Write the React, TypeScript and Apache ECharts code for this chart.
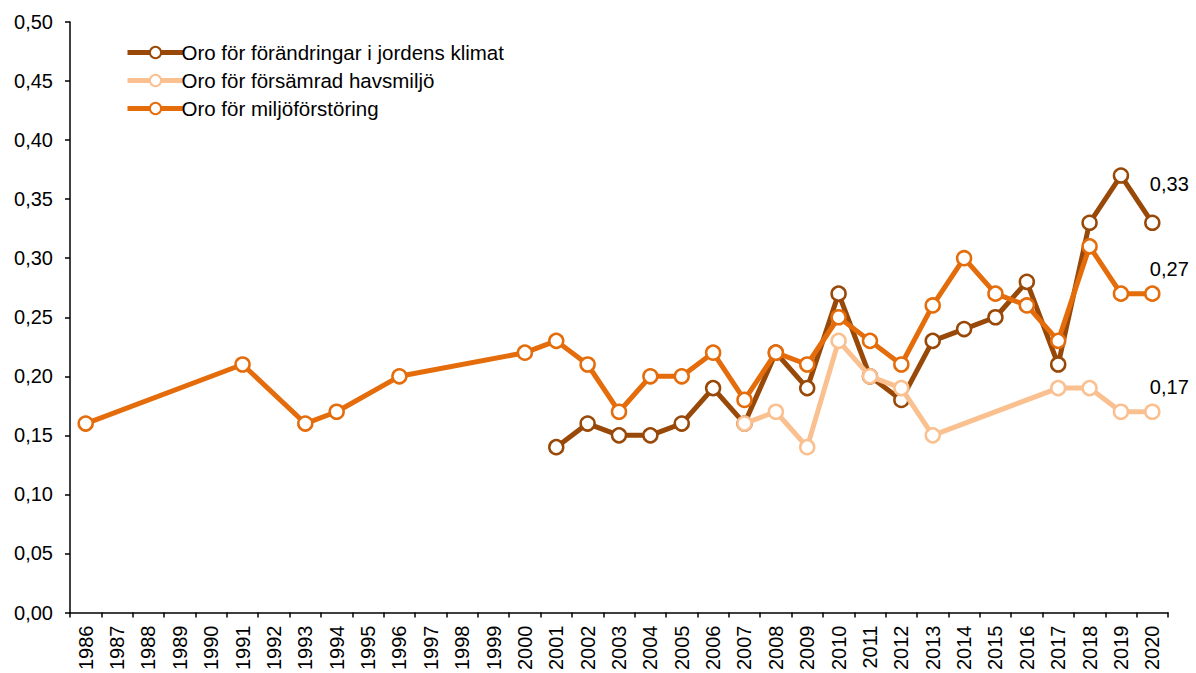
import React, { useEffect, useRef } from "react";
import * as echarts from "echarts";

const years = [
  "1986","1987","1988","1989","1990","1991","1992","1993","1994","1995","1996","1997","1998","1999","2000",
  "2001","2002","2003","2004","2005","2006","2007","2008","2009","2010","2011","2012","2013","2014","2015",
  "2016","2017","2018","2019","2020",
];

const N = null;
// 1986..2000 (15), 2001..2020 (20)
const klimat = [
  N,N,N,N,N,N,N,N,N,N,N,N,N,N,N,
  0.14,0.16,0.15,0.15,0.16,0.19,0.16,0.22,0.19,0.27,0.20,0.18,0.23,0.24,0.25,0.28,0.21,0.33,0.37,0.33,
];
const havsmiljo = [
  N,N,N,N,N,N,N,N,N,N,N,N,N,N,N,
  N,N,N,N,N,N,0.16,0.17,0.14,0.23,0.20,0.19,0.15,N,N,N,0.19,0.19,0.17,0.17,
];
const miljoforstoring = [
  0.16,N,N,N,N,0.21,N,0.16,0.17,N,0.20,N,N,N,0.22,
  0.23,0.21,0.17,0.20,0.20,0.22,0.18,0.22,0.21,0.25,0.23,0.21,0.26,0.30,0.27,0.26,0.23,0.31,0.27,0.27,
];

const seriesNames = [
  "Oro för förändringar i jordens klimat",
  "Oro för försämrad havsmiljö",
  "Oro för miljöförstöring",
];
const colors = ["#984807", "#FAC090", "#E46C0A"];
const endLabelOffsets = [[17, -21], [17, -6], [17, -6]];

const fmt = (v: number) => v.toFixed(2).replace(".", ",");

export default function App() {
  const ref = useRef<HTMLDivElement>(null);
  useEffect(() => {
    if (!ref.current) return;
    const chart = echarts.init(ref.current, undefined, { renderer: "svg" });
    const datasets = [klimat, havsmiljo, miljoforstoring];
    const font = "Liberation Sans";
    chart.setOption({
      animation: false,
      textStyle: { fontFamily: font },
      grid: { left: 70, right: 28, top: 22, bottom: 60, containLabel: false },
      legend: {
        orient: "vertical",
        left: 120,
        top: 37,
        itemWidth: 56,
        itemHeight: 14,
        itemGap: 7,
        lineStyle: { width: 5 },
        textStyle: { fontSize: 20.5, lineHeight: 21, color: "#000", fontFamily: font, padding: [0, 0, 0, -7] },
        data: seriesNames,
      },
      xAxis: {
        type: "category",
        data: years,
        boundaryGap: true,
        axisLine: { lineStyle: { color: "#000", width: 1.5 } },
        axisTick: { show: true, alignWithLabel: false, length: 5, lineStyle: { color: "#000", width: 1.5 } },
        axisLabel: { rotate: 90, fontSize: 20, color: "#000", margin: 13, interval: 0, fontFamily: font },
        splitLine: { show: false },
      },
      yAxis: {
        type: "value",
        min: 0,
        max: 0.5,
        interval: 0.05,
        axisLine: { show: true, lineStyle: { color: "#000", width: 1.5 } },
        axisTick: { show: true, length: 5, lineStyle: { color: "#000", width: 1.5 } },
        axisLabel: { fontSize: 20, color: "#000", margin: 17, formatter: (v: number) => fmt(v), fontFamily: font },
        splitLine: { show: false },
      },
      series: datasets.map((d, i) => ({
        name: seriesNames[i],
        type: "line",
        connectNulls: true,
        symbol: "circle",
        symbolSize: 14,
        z: 2 + i,
        lineStyle: { color: colors[i], width: 5 },
        itemStyle: { color: "#fff", borderColor: colors[i], borderWidth: 2.5 },
        data: d.map((v, j) =>
          j === d.length - 1 && v != null
            ? {
                value: v,
                label: {
                  show: true,
                  position: "top",
                  distance: 0,
                  offset: endLabelOffsets[i],
                  formatter: () => fmt(v),
                  fontSize: 20,
                  color: "#000",
                  fontFamily: font,
                },
              }
            : v
        ),
      })),
    });
    return () => chart.dispose();
  }, []);
  return <div ref={ref} style={{ width: 1196, height: 673, position: "absolute", left: 0, top: 0 }} />;
}
